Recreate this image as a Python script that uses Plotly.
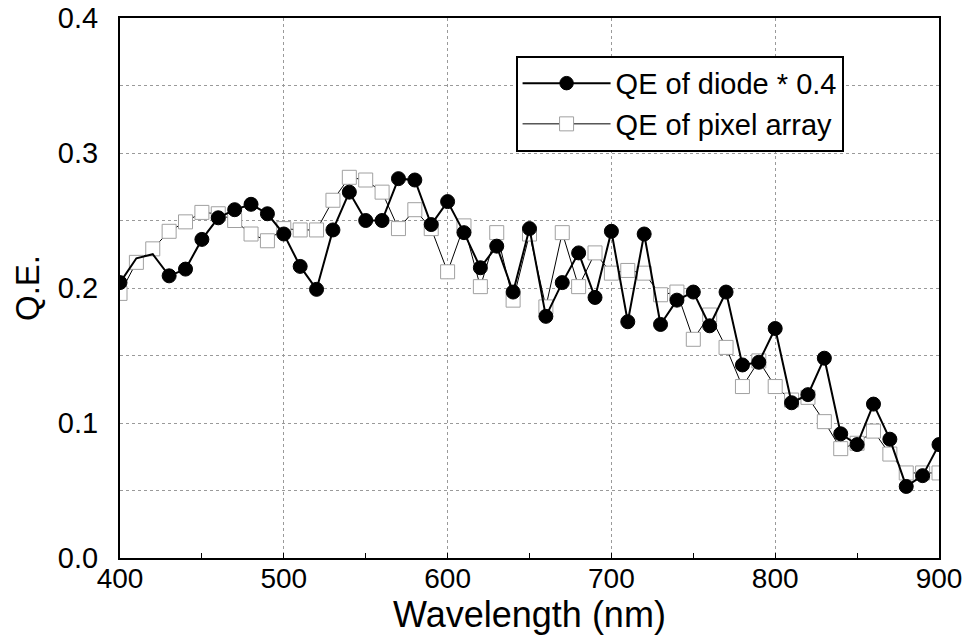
import plotly.graph_objects as go

wavelength = [400, 410, 420, 430, 440, 450, 460, 470, 480, 490,
              500, 510, 520, 530, 540, 550, 560, 570, 580, 590,
              600, 610, 620, 630, 640, 650, 660, 670, 680, 690,
              700, 710, 720, 730, 740, 750, 760, 770, 780, 790,
              800, 810, 820, 830, 840, 850, 860, 870, 880, 890, 900]

qe_diode = [0.204, 0.222, 0.225, 0.209, 0.214, 0.236, 0.252, 0.258, 0.262, 0.255,
            0.240, 0.216, 0.199, 0.243, 0.271, 0.250, 0.250, 0.281, 0.280, 0.247,
            0.264, 0.241, 0.215, 0.231, 0.197, 0.244, 0.179, 0.204, 0.226, 0.193,
            0.242, 0.175, 0.240, 0.173, 0.191, 0.197, 0.172, 0.197, 0.143, 0.145,
            0.170, 0.115, 0.121, 0.148, 0.092, 0.084, 0.114, 0.088, 0.053, 0.061, 0.084]

qe_pixel = [0.196, 0.219, 0.229, 0.242, 0.249, 0.256, 0.255, 0.250, 0.240, 0.235,
            0.244, 0.243, 0.243, 0.265, 0.282, 0.280, 0.271, 0.244, 0.258, 0.244,
            0.212, 0.246, 0.201, 0.241, 0.191, 0.240, 0.186, 0.241, 0.201, 0.226,
            0.211, 0.213, 0.211, 0.195, 0.197, 0.162, 0.180, 0.156, 0.127, 0.146,
            0.127, 0.117, 0.119, 0.101, 0.081, 0.085, 0.094, 0.077, 0.063, 0.063, 0.063]

y_ticks = [0.0, 0.1, 0.2, 0.3, 0.4]
y_tick_text = ["0.0", "0.1", "0.2", "0.3", "0.4"]
x_ticks = [400, 500, 600, 700, 800, 900]

# diode markers not drawn at 410 and 420 nm in the original
diode_marker_sizes = [0 if w in (410, 420) else 14 for w in wavelength]

font_family = "Liberation Sans, Arial, Helvetica, sans-serif"
grid_color = "#9a9a9a"

fig = go.Figure()

fig.add_trace(go.Scatter(
    x=wavelength, y=qe_pixel, mode="lines+markers",
    name="QE of pixel array",
    line=dict(color="black", width=1),
    marker=dict(symbol="square", size=14, color="white", opacity=1,
                line=dict(color="#a0a0a0", width=1)),
))

fig.add_trace(go.Scatter(
    x=wavelength, y=qe_diode, mode="lines+markers",
    name="QE of diode * 0.4",
    line=dict(color="black", width=2),
    marker=dict(symbol="circle", size=diode_marker_sizes, color="#000000",
                opacity=1, line=dict(color="#000000", width=1)),
))

fig.update_layout(
    width=968, height=635,
    margin=dict(l=120, r=29, t=18, b=77),
    paper_bgcolor="white", plot_bgcolor="white",
    font=dict(family=font_family, color="black", size=22),
    showlegend=True,
    legend=dict(
        x=0.483, y=0.93, xanchor="left", yanchor="top",
        bgcolor="white", bordercolor="black", borderwidth=2,
        font=dict(size=29, family=font_family),
        traceorder="reversed",
        itemwidth=88,
        tracegroupgap=0,
    ),
    xaxis=dict(
        range=[400, 900], tickvals=x_ticks, automargin=False,
        showline=True, linecolor="black", linewidth=2, mirror=True,
        showgrid=True, gridcolor=grid_color, griddash="dot", gridwidth=1,
        ticks="inside", ticklen=0, tickfont=dict(size=28),
        ticklabelstandoff=-6,
        minor=dict(dtick=50, ticks="inside", ticklen=5, tickcolor="black", showgrid=False),
        title=dict(text="Wavelength (nm)", font=dict(size=36), standoff=0),
        zeroline=False,
    ),
    yaxis=dict(
        range=[0, 0.4], tickvals=y_ticks, ticktext=y_tick_text, automargin=False,
        showline=True, linecolor="black", linewidth=2, mirror=True,
        showgrid=True, gridcolor=grid_color, griddash="dot", gridwidth=1,
        ticks="inside", ticklen=0, tickfont=dict(size=29),
        ticklabelstandoff=14,
        minor=dict(dtick=0.05, showgrid=True, gridcolor=grid_color,
                   griddash="dot", gridwidth=1, ticks=""),
        title=dict(text="Q.E.", font=dict(size=33), standoff=8),
        zeroline=False,
    ),
)

fig.write_html("out.html")
